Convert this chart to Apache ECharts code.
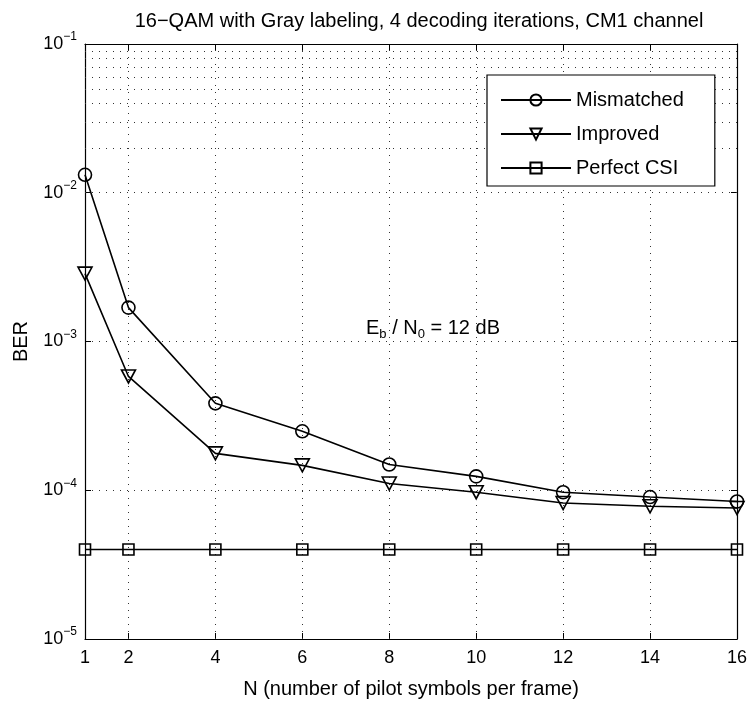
<!DOCTYPE html>
<html><head><meta charset="utf-8">
<script src="https://cdn.jsdelivr.net/npm/echarts@6/dist/echarts.min.js"></script>
<style>html,body{margin:0;background:#fff}#c{width:750px;height:704px}</style>
</head><body><div id="c"></div>
<script>
const xValues = [1, 2, 4, 6, 8, 10, 12, 14, 16];
const mismatched = [1.32e-2, 1.69e-3, 3.84e-4, 2.49e-4, 1.49e-4, 1.24e-4, 9.7e-5, 9.0e-5, 8.4e-5];
const improved = [2.86e-3, 5.82e-4, 1.77e-4, 1.47e-4, 1.11e-4, 9.7e-5, 8.2e-5, 7.8e-5, 7.6e-5];
const perfectCSI = [4.0e-5, 4.0e-5, 4.0e-5, 4.0e-5, 4.0e-5, 4.0e-5, 4.0e-5, 4.0e-5, 4.0e-5];
const seriesNames = ['Mismatched', 'Improved', 'Perfect CSI'];
const xTickLabels = [1, 2, 4, 6, 8, 10, 12, 14, 16];
const xGridValues = [2, 4, 6, 8, 10, 12, 14];
const yDecades = [1e-5, 1e-4, 1e-3, 1e-2, 1e-1];
const titleText = '16\u2212QAM with Gray labeling, 4 decoding iterations, CM1 channel';
const xName = 'N (number of pilot symbols per frame)';
const yName = 'BER';

const FONT = 'Liberation Sans, Arial, Helvetica, sans-serif';
const yGridValues = [];
for (let i = 0; i < yDecades.length - 1; i++) {
  for (let k = 1; k <= 9; k++) yGridValues.push(yDecades[i] * k);
}
yGridValues.push(1e-1);
const yMinorGrid = yGridValues.filter(v => v > 1e-5 && v < 1e-1);

const dotted = { color: '#333', width: 1, type: [1, 6] };
const gridLines = [
  ...xGridValues.map(v => ({ xAxis: v })),
  ...yMinorGrid.map(v => ({ yAxis: v }))
];

const pts = arr => xValues.map((x, i) => [x, arr[i]]);
const triPath = 'path://M0,0 L12,0 L6,11 Z';

function mkSeries(name, data, symbol, size, extra) {
  return Object.assign({
    name, type: 'line', data: pts(data), symbol, symbolSize: size,
    showAllSymbol: true,
    lineStyle: { color: '#000', width: 1.6 },
    itemStyle: { color: 'rgba(255,255,255,0)', borderColor: '#000', borderWidth: 1.6 },
    emphasis: { disabled: true }, z: 5
  }, extra || {});
}

const chart = echarts.init(document.getElementById('c'), null, { renderer: 'canvas' });
const supFmt = v => {
  const e = Math.round(Math.log10(v));
  return '{b|10}{s|' + (e < 0 ? '\u2212' : '') + Math.abs(e) + '}';
};
chart.setOption({
  animation: false,
  backgroundColor: '#fff',
  textStyle: { fontFamily: FONT, color: '#000' },
  title: {
    text: titleText, left: 414, top: 6, textAlign: 'center',
    textStyle: { fontFamily: FONT, fontSize: 20, fontWeight: 'normal', color: '#000' }
  },
  grid: { left: 85, right: 11, top: 44, bottom: 64, containLabel: false },
  legend: {
    orient: 'vertical', left: 487, top: 75,
    data: seriesNames,
    itemWidth: 70, itemHeight: 14, itemGap: 14,
    backgroundColor: '#fff', borderColor: '#000', borderWidth: 1.2,
    padding: [15, 31, 8, 13],
    textStyle: { fontFamily: FONT, fontSize: 20, color: '#000' },
    selectedMode: false
  },
  xAxis: [{
    type: 'value', min: 1, max: 16, interval: 1,
    name: xName, nameLocation: 'middle', nameGap: 40,
    nameTextStyle: { fontFamily: FONT, fontSize: 20, color: '#000' },
    axisLine: { show: true, onZero: false, lineStyle: { color: '#000', width: 1.2 } },
    axisTick: { show: true, inside: true, length: 6, customValues: xTickLabels, lineStyle: { color: '#000' } },
    axisLabel: { show: true, customValues: xTickLabels, margin: 10, fontFamily: FONT, fontSize: 18, color: '#000' },
    splitLine: { show: false }
  }, {
    type: 'value', min: 1, max: 16, position: 'top',
    axisLine: { show: true, onZero: false, lineStyle: { color: '#000', width: 1.2 } },
    axisTick: { show: true, inside: true, length: 6, customValues: xTickLabels, lineStyle: { color: '#000' } },
    axisLabel: { show: false }, splitLine: { show: false }
  }],
  yAxis: [{
    type: 'log', logBase: 10, min: 1e-5, max: 1e-1,
    name: yName, nameLocation: 'middle', nameGap: 54, nameRotate: 90,
    nameTextStyle: { fontFamily: FONT, fontSize: 20, color: '#000' },
    axisLine: { show: true, onZero: false, lineStyle: { color: '#000', width: 1.2 } },
    axisTick: { show: true, inside: true, length: 6, lineStyle: { color: '#000' } },
    axisLabel: {
      formatter: supFmt, margin: 8,
      rich: {
        b: { fontFamily: FONT, fontSize: 18, color: '#000' },
        s: { fontFamily: FONT, fontSize: 12, color: '#000', padding: [0, 0, 14, 0] }
      }
    },
    splitLine: { show: true, lineStyle: dotted }
  }, {
    type: 'log', logBase: 10, min: 1e-5, max: 1e-1, position: 'right',
    axisLine: { show: true, onZero: false, lineStyle: { color: '#000', width: 1.2 } },
    axisTick: { show: true, inside: true, length: 6, lineStyle: { color: '#000' } },
    axisLabel: { show: false }, splitLine: { show: false }
  }],
  graphic: [{
    type: 'text', left: 366, top: 318, z: 10,
    style: {
      text: '{n|E}{sub|b}{n| / N}{sub|0}{n| = 12 dB}',
      rich: {
        n: { fontFamily: FONT, fontSize: 20, fill: '#000' },
        sub: { fontFamily: FONT, fontSize: 13, fill: '#000', padding: [13, 0, 0, 0] }
      }
    }
  }],
  series: [
    mkSeries('Mismatched', mismatched, 'circle', 13, {
      markLine: { silent: true, symbol: 'none', label: { show: false }, lineStyle: dotted, data: gridLines, z: 1, emphasis: { disabled: true } }
    }),
    mkSeries('Improved', improved, triPath, [14, 13]),
    mkSeries('Perfect CSI', perfectCSI, 'rect', 11)
  ]
});
</script></body></html>
